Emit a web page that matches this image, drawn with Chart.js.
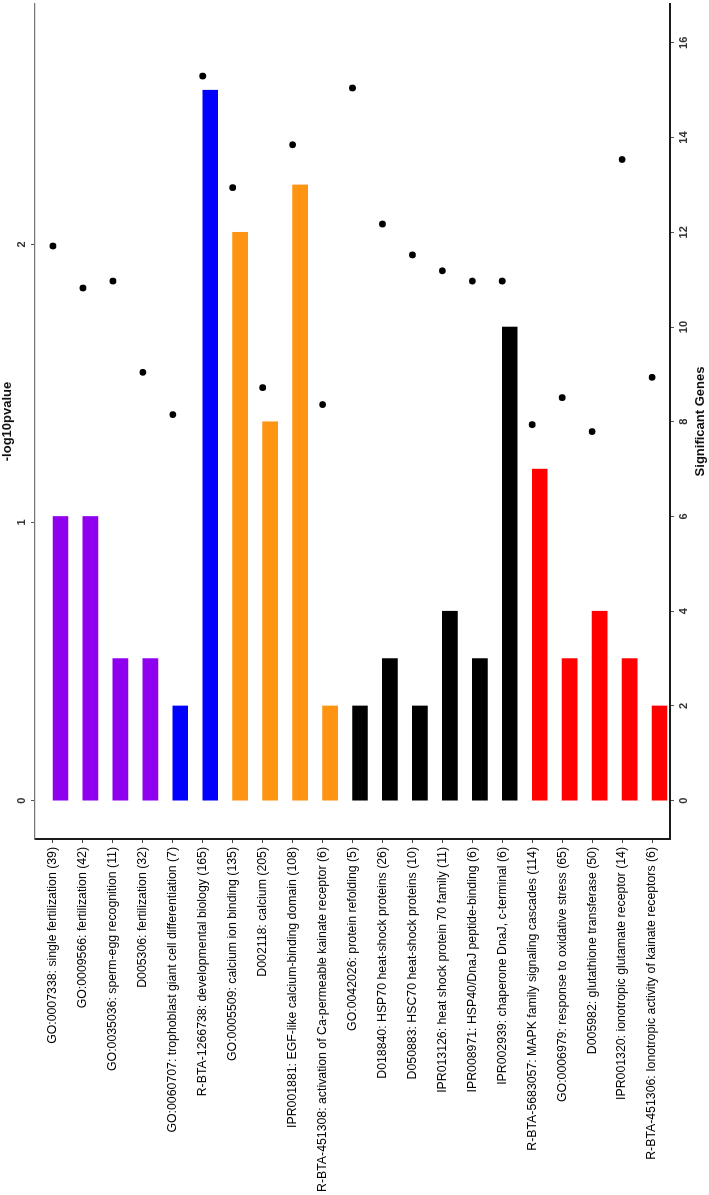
<!DOCTYPE html>
<html>
<head>
<meta charset="utf-8">
<script src="https://cdn.jsdelivr.net/npm/chart.js@4/dist/chart.umd.min.js"></script>
<style>
  html, body { margin: 0; padding: 0; background: #fff; overflow: hidden; }
  body { width: 709px; height: 1195px; position: relative; }
  /* chart is drawn landscape, then turned a quarter turn to read bottom-to-top */
  #wrap {
    position: absolute; left: 0; top: 0;
    width: 1195px; height: 709px;
    transform-origin: 0 0;
    transform: translate(0, 1195px) rotate(-90deg);
  }
</style>
</head>
<body>
<div id="wrap"><canvas id="chart" width="1195" height="709"></canvas></div>
<script>
const categories = [
  'GO:0007338: single fertilization (39)',
  'GO:0009566: fertilization (42)',
  'GO:0035036: sperm-egg recognition (11)',
  'D005306: fertilization (32)',
  'GO:0060707: trophoblast giant cell differentiation (7)',
  'R-BTA-1266738: developmental biology (165)',
  'GO:0005509: calcium ion binding (135)',
  'D002118: calcium (205)',
  'IPR001881: EGF-like calcium-binding domain (108)',
  'R-BTA-451308: activation of Ca-permeable kainate receptor (6)',
  'GO:0042026: protein refolding (5)',
  'D018840: HSP70 heat-shock proteins (26)',
  'D050883: HSC70 heat-shock proteins (10)',
  'IPR013126: heat shock protein 70 family (11)',
  'IPR008971: HSP40/DnaJ peptide-binding (6)',
  'IPR002939: chaperone DnaJ, c-terminal (6)',
  'R-BTA-5683057: MAPK family signaling cascades (114)',
  'GO:0006979: response to oxidative stress (65)',
  'D005982: glutathione transferase (50)',
  'IPR001320: ionotropic glutamate receptor (14)',
  'R-BTA-451306: Ionotropic activity of kainate receptors (6)',
];
const geneCounts = [6, 6, 3, 3, 2, 15, 12, 8, 13, 2, 2, 3, 2, 4, 3, 10, 7, 3, 4, 3, 2];
const log10p = [1.994, 1.843, 1.868, 1.540, 1.388, 2.605, 2.204, 1.485, 2.358, 1.424, 2.562,
                2.073, 1.962, 1.905, 1.868, 1.868, 1.352, 1.449, 1.327, 2.305, 1.522];
const barColors = [
  '#8f00ef', '#8f00ef', '#8f00ef', '#8f00ef',
  '#0000ff', '#0000ff',
  '#ff9312', '#ff9312', '#ff9312', '#ff9312',
  '#000000', '#000000', '#000000', '#000000', '#000000', '#000000',
  '#ff0000', '#ff0000', '#ff0000', '#ff0000', '#ff0000',
];
const geneTicks = [0, 2, 4, 6, 8, 10, 12, 14, 16];
const pTicks = [0, 1, 2];

const tickFont = { family: 'Liberation Sans, Arial, sans-serif', size: 11, weight: 'bold' };
const titleFont = { family: 'Liberation Sans, Arial, sans-serif', size: 13, weight: 'bold' };

new Chart(document.getElementById('chart'), {
  type: 'bar',
  data: {
    datasets: [
      {
        type: 'scatter',
        label: '-log10pvalue',
        data: log10p.map((v, i) => ({ x: v, y: i })),
        xAxisID: 'x2',
        yAxisID: 'y',
        backgroundColor: '#000',
        borderColor: '#000',
        pointRadius: 3.4,
        pointBorderWidth: 0,
        order: 0,
      },
      {
        type: 'bar',
        label: 'Significant Genes',
        indexAxis: 'y',
        data: geneCounts.map((v, i) => ({ x: v, y: i })),
        xAxisID: 'x',
        yAxisID: 'y',
        backgroundColor: barColors,
        borderWidth: 0,
        barThickness: 15,
        order: 1,
      },
    ],
  },
  options: {
    responsive: false,
    animation: false,
    layout: { padding: 0 },
    plugins: { legend: { display: false }, tooltip: { enabled: false } },
    scales: {
      y: {
        type: 'linear',
        position: 'left',
        reverse: true,
        offset: false,
        min: -0.6,
        max: 20.6,
        afterBuildTicks(scale) { scale.ticks = categories.map((_, i) => ({ value: i })); },
        afterFit(scale) { scale.width = 356; },
        grid: { offset: false, drawOnChartArea: false, drawTicks: true, tickLength: 4, color: '#444' },
        border: { display: true, color: '#1a1a1a', width: 2 },
        ticks: {
          color: '#000',
          padding: 4,
          autoSkip: false,
          font: { family: 'Liberation Sans, Arial, sans-serif', size: 12.3 },
          callback: (v) => categories[v],
        },
      },
      x2: {
        type: 'linear',
        position: 'top',
        offset: false,
        min: -0.1377,
        max: 2.864,
        afterBuildTicks(scale) { scale.ticks = pTicks.map(v => ({ value: v })); },
        afterFit(scale) { scale.height = 35; },
        grid: { offset: false, drawOnChartArea: false, drawTicks: true, tickLength: 4, color: '#555' },
        border: { display: true, color: '#777', width: 1.2 },
        ticks: { color: '#333', padding: 2, font: tickFont, maxRotation: 0 },
        title: { display: true, text: '-log10pvalue', color: '#111', font: titleFont, padding: { top: 0, bottom: 0 } },
      },
      x: {
        type: 'linear',
        position: 'bottom',
        offset: false,
        min: -0.809,
        max: 16.82,
        afterBuildTicks(scale) { scale.ticks = geneTicks.map(v => ({ value: v })); },
        afterFit(scale) { scale.height = 39; },
        grid: { offset: false, drawOnChartArea: false, drawTicks: true, tickLength: 4, color: '#555' },
        border: { display: true, color: '#1a1a1a', width: 2 },
        ticks: { color: '#333', padding: 3, font: tickFont, maxRotation: 0 },
        title: { display: true, text: 'Significant Genes', color: '#111', font: titleFont, padding: { top: 0, bottom: 1 } },
      },
    },
  },
});
</script>
</body>
</html>
